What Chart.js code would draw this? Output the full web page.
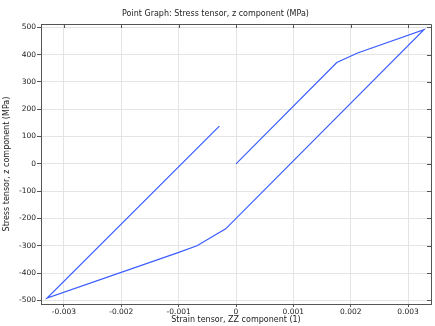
<!DOCTYPE html>
<html>
<head>
<meta charset="utf-8">
<script src="https://cdn.jsdelivr.net/npm/chart.js@4"></script>
<style>
  body { margin: 0; background: #fff; }
  #wrap { width: 435px; height: 326px; }
</style>
</head>
<body>
<div id="wrap"><canvas id="myChart" width="435" height="326"></canvas></div>
<script>
// strain (1) and stress (MPa) along the load path
const strainValues = [0, 0.001757, 0.00212, 0.003277, -0.00018, -0.00068, -0.00101, -0.003294, -0.00029];
const stressValues = [0, 371, 406, 491, -238, -300, -325, -491, 138];

const xTickValues = [-0.003, -0.002, -0.001, 0, 0.001, 0.002, 0.003];
const yTickValues = [-500, -400, -300, -200, -100, 0, 100, 200, 300, 400, 500];

const points = strainValues.map((s, i) => ({ x: s, y: stressValues[i] }));

const fontFamily = "'DejaVu Sans', sans-serif";
const textColor = '#222';

// top and right frame with inward ticks
const framePlugin = {
  id: 'frame',
  afterDraw(chart) {
    const ctx = chart.ctx;
    const a = chart.chartArea;
    const xs = chart.scales.x;
    const ys = chart.scales.y;
    ctx.save();
    ctx.strokeStyle = '#555';
    ctx.lineWidth = 1;
    ctx.beginPath();
    ctx.moveTo(a.left, a.top + 0.5);
    ctx.lineTo(a.right + 0.5, a.top + 0.5);
    ctx.lineTo(a.right + 0.5, a.bottom);
    xTickValues.forEach(v => {
      const px = Math.round(xs.getPixelForValue(v)) + 0.5;
      ctx.moveTo(px, a.top);
      ctx.lineTo(px, a.top + 4);
    });
    yTickValues.forEach(v => {
      const py = Math.round(ys.getPixelForValue(v)) + 0.5;
      ctx.moveTo(a.right, py);
      ctx.lineTo(a.right - 4, py);
    });
    ctx.stroke();
    ctx.restore();
  }
};

const chart = new Chart('myChart', {
  type: 'scatter',
  data: {
    datasets: [{
      data: points,
      showLine: true,
      borderColor: '#3a5cff',
      borderWidth: 1.2,
      pointRadius: 0,
      tension: 0
    }]
  },
  options: {
    responsive: false,
    animation: false,
    layout: { padding: { top: 0, right: 4, bottom: 0, left: 0 } },
    scales: {
      x: {
        type: 'linear',
        min: -0.0034,
        max: 0.0034,
        afterBuildTicks: scale => { scale.ticks = xTickValues.map(v => ({ value: v })); },
        afterFit: scale => { scale.height = 22; },
        grid: { color: '#e4e4e4', tickLength: 3, tickColor: '#555' },
        border: { color: '#555', width: 1 },
        ticks: {
          padding: 1,
          maxRotation: 0,
          color: textColor,
          font: { family: fontFamily, size: 7.5 },
          callback: v => String(v)
        },
        title: {
          display: true,
          text: 'Strain tensor, ZZ component (1)',
          color: textColor,
          font: { family: fontFamily, size: 8 },
          padding: { top: 0, bottom: 1 }
        }
      },
      y: {
        type: 'linear',
        min: -513,
        max: 512,
        afterBuildTicks: scale => { scale.ticks = yTickValues.map(v => ({ value: v })); },
        afterFit: scale => { scale.width = 41; },
        grid: { color: '#e4e4e4', tickLength: 4, tickColor: '#555' },
        border: { color: '#555', width: 1 },
        ticks: {
          padding: 1,
          color: textColor,
          font: { family: fontFamily, size: 7.5 }
        },
        title: {
          display: true,
          text: 'Stress tensor, z component (MPa)',
          color: textColor,
          font: { family: fontFamily, size: 8 },
          padding: { top: 2, bottom: 0 }
        }
      }
    },
    plugins: {
      legend: { display: false },
      tooltip: { enabled: false },
      title: {
        display: true,
        text: 'Point Graph: Stress tensor, z component (MPa)',
        color: textColor,
        font: { family: fontFamily, size: 8, weight: 'normal' },
        padding: { top: 9, bottom: 5.4 }
      }
    }
  },
  plugins: [framePlugin]
});
</script>
</body>
</html>
